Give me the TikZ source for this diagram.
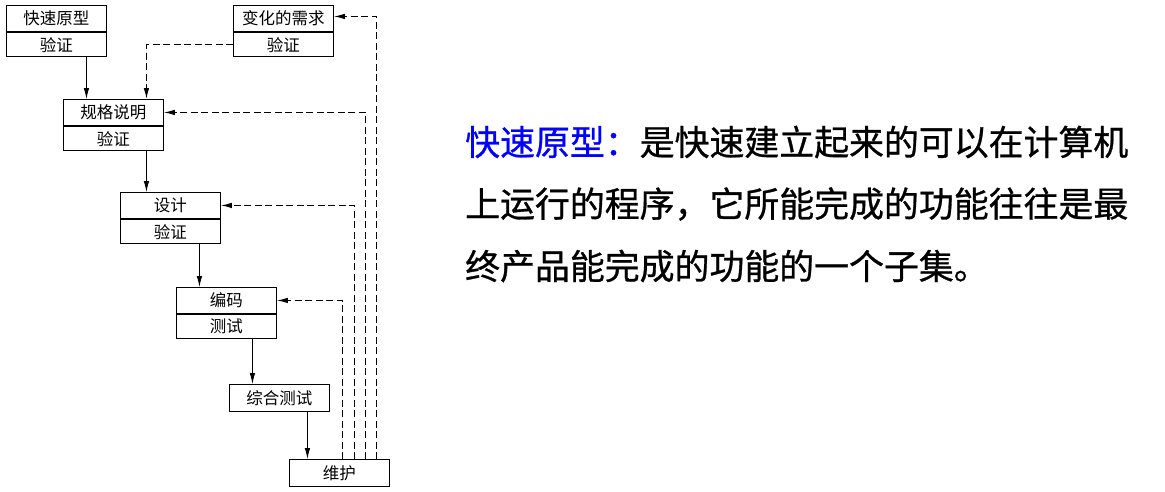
\documentclass[tikz,border=0pt]{standalone}
\usepackage{fontspec}
\newfontfamily\cjk{Noto Sans CJK SC}
\newfontfamily\cjkheavy{Noto Sans CJK SC}[FakeBold=0.8]
\usetikzlibrary{arrows.meta}
\begin{document}
\begin{tikzpicture}[x=1pt,y=-1pt,
  part/.style={draw, line width=0.9pt, minimum width=100pt, inner sep=0pt,
    font=\cjk\fontsize{16.5}{16.5}\selectfont},
  tophalf/.style={part, minimum height=26pt},
  bothalf/.style={part, minimum height=24.5pt},
  single/.style={part, minimum height=27pt},
  flow/.style={line width=0.8pt, -{Latex[length=11pt,width=5.5pt]}},
  fb/.style={flow, line width=1pt, dash pattern=on 7pt off 3.5pt},
  desc/.style={anchor=west, inner sep=0pt, font=\cjkheavy\fontsize{34.9}{40}\selectfont}]
\useasboundingbox (0,0) rectangle (1165,491);

% boxes
\node[tophalf, anchor=north west] (kst) at (6,5) {快速原型};
\node[bothalf, anchor=north] (ksb) at (kst.south) {验证};
\node[tophalf, anchor=north west] (bht) at (233,5) {变化的需求};
\node[bothalf, anchor=north] (bhb) at (bht.south) {验证};
\node[tophalf, anchor=north west] (ggt) at (63,99) {规格说明};
\node[bothalf, anchor=north] (ggb) at (ggt.south) {验证};
\node[tophalf, anchor=north west] (sjt) at (120,192) {设计};
\node[bothalf, anchor=north] (sjb) at (sjt.south) {验证};
\node[tophalf, anchor=north west] (bmt) at (176,287) {编码};
\node[bothalf, anchor=north] (bmb) at (bmt.south) {测试};
\node[single, anchor=north west] (zh) at (229,384) {综合测试};
\node[single, anchor=north west] (wh) at (289,459) {维护};

% solid flow
\draw[flow] ([xshift=30pt]ksb.south) -- ([xshift=30pt]ksb.south |- ggt.north);
\draw[flow] ([xshift=33pt]ggb.south) -- ([xshift=33pt]ggb.south |- sjt.north);
\draw[flow] ([xshift=29pt]sjb.south) -- ([xshift=29pt]sjb.south |- bmt.north);
\draw[flow] ([xshift=26pt]bmb.south) -- ([xshift=26pt]bmb.south |- zh.north);
\draw[flow] ([xshift=28pt]zh.south) -- ([xshift=28pt]zh.south |- wh.north);

% dashed feedback
\draw[fb] (bhb.west) -| ([xshift=33pt]ggt.north);
\draw[fb] ([xshift=3pt]wh.north) |- (bmt.east);
\draw[fb] ([xshift=15pt]wh.north) |- (sjt.east);
\draw[fb] ([xshift=26pt]wh.north) |- (ggt.east);
\draw[fb] ([xshift=37.5pt]wh.north) |- ([yshift=2pt]bht.east);

% description
\node[desc] (t1) at (465,142) {\textcolor{blue}{快速原型：}是快速建立起来的可以在计算机};
\node[desc] (t2) at (465,204) {上运行的程序，它所能完成的功能往往是最};
\node[desc] (t3) at (465,266) {终产品能完成的功能的一个子集。};
\end{tikzpicture}
\end{document}
